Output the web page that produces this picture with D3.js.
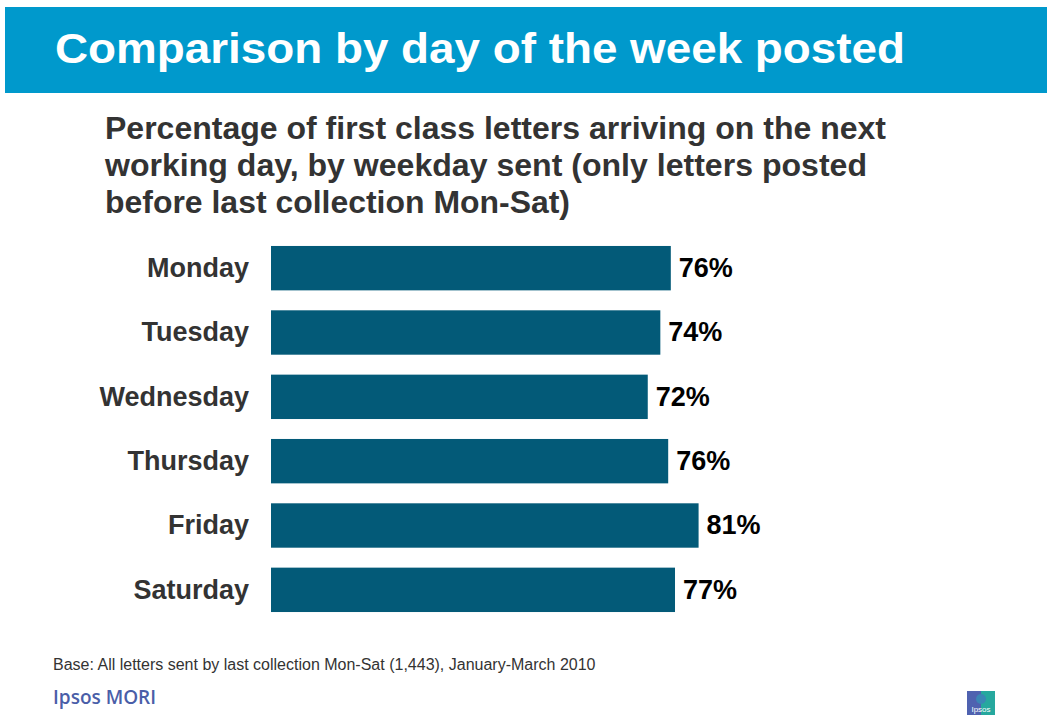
<!DOCTYPE html>
<html>
<head>
<meta charset="utf-8">
<script src="https://cdn.jsdelivr.net/npm/d3@7"></script>
<style>
  html, body { margin: 0; padding: 0; background: #fff; }
  svg { display: block; }
</style>
</head>
<body>
<script>
// ---- Data ----
const categories = ["Monday", "Tuesday", "Wednesday", "Thursday", "Friday", "Saturday"];
const values = [76.3, 74.3, 71.9, 75.8, 81.6, 77.1];
const valueLabels = ["76%", "74%", "72%", "76%", "81%", "77%"];
const titleText = "Comparison by day of the week posted";
const subtitleLines = [
  "Percentage of first class letters arriving on the next",
  "working day, by weekday sent (only letters posted",
  "before last collection Mon-Sat)"
];
const subtitleWidths = [781, 762, 465];
const baseNote = "Base: All letters sent by last collection Mon-Sat (1,443), January-March 2010";
const brand = "Ipsos MORI";

const W = 1047, H = 720;
const FONT = "Liberation Sans, Arial, Helvetica, sans-serif";
const svg = d3.select("body").append("svg").attr("width", W).attr("height", H);

// Header band
svg.append("rect").attr("x", 5).attr("y", 7).attr("width", W - 5).attr("height", 86).attr("fill", "#0099CC");
svg.append("text").attr("x", 55).attr("y", 63)
  .attr("font-family", FONT).attr("font-weight", "bold")
  .attr("font-size", 42).attr("fill", "#fff")
  .attr("textLength", 850).attr("lengthAdjust", "spacingAndGlyphs")
  .text(titleText);

// Subtitle
svg.append("g").selectAll("text").data(subtitleLines).join("text")
  .attr("x", 105).attr("y", (d, i) => 139 + i * 37)
  .attr("font-family", FONT).attr("font-weight", "bold")
  .attr("font-size", 31).attr("fill", "#333333")
  .attr("textLength", (d, i) => subtitleWidths[i]).attr("lengthAdjust", "spacingAndGlyphs")
  .text(d => d);

// Scales
const x = d3.scaleLinear().domain([0, 100]).range([271, 795]);
const y = d3.scaleBand().domain(categories).range([236, 622]).paddingInner(0.31).paddingOuter(0.155);

const g = svg.append("g");
g.selectAll("rect.bar").data(values).join("rect")
  .attr("class", "bar")
  .attr("x", x(0))
  .attr("y", (d, i) => y(categories[i]))
  .attr("width", d => x(d) - x(0))
  .attr("height", y.bandwidth())
  .attr("fill", "#035A78");

// Value labels
g.selectAll("text.val").data(values).join("text")
  .attr("class", "val")
  .attr("x", d => x(d) + 8)
  .attr("y", (d, i) => y(categories[i]) + y.bandwidth() / 2)
  .attr("dy", "0.33em")
  .attr("font-family", FONT).attr("font-weight", "bold")
  .attr("font-size", 27).attr("fill", "#000")
  .text((d, i) => valueLabels[i]);

// Category axis (no line/ticks)
const yAxis = d3.axisLeft(y).tickSize(0).tickPadding(0);
const ax = svg.append("g").attr("transform", "translate(249,0)").call(yAxis);
ax.select(".domain").remove();
ax.selectAll("text")
  .attr("dy", "0.33em")
  .attr("font-family", FONT).attr("font-weight", "bold")
  .attr("font-size", 27).attr("fill", "#333333");

// Footnote
svg.append("text").attr("x", 53).attr("y", 670)
  .attr("font-family", FONT)
  .attr("font-size", 16).attr("fill", "#333333")
  .text(baseNote);

svg.append("text").attr("x", 53).attr("y", 704)
  .attr("font-family", "Open Sans, Liberation Sans, sans-serif").attr("font-weight", "600")
  .attr("font-size", 19).attr("fill", "#4A5EA8")
  .text(brand);

// Logo
const logo = svg.append("g").attr("transform", "translate(967,691)");
logo.append("rect").attr("width", 28).attr("height", 24).attr("fill", "#4F62B0");
logo.append("rect").attr("x", 14).attr("width", 14).attr("height", 24).attr("fill", "#26A89E");
logo.append("circle").attr("cx", 14).attr("cy", 8).attr("r", 5).attr("fill", "#3b86b5");
logo.append("text").attr("x", 14).attr("y", 21).attr("text-anchor", "middle")
  .attr("font-family", FONT).attr("font-size", 8).attr("fill", "#fff")
  .text("Ipsos");
</script>
</body>
</html>
